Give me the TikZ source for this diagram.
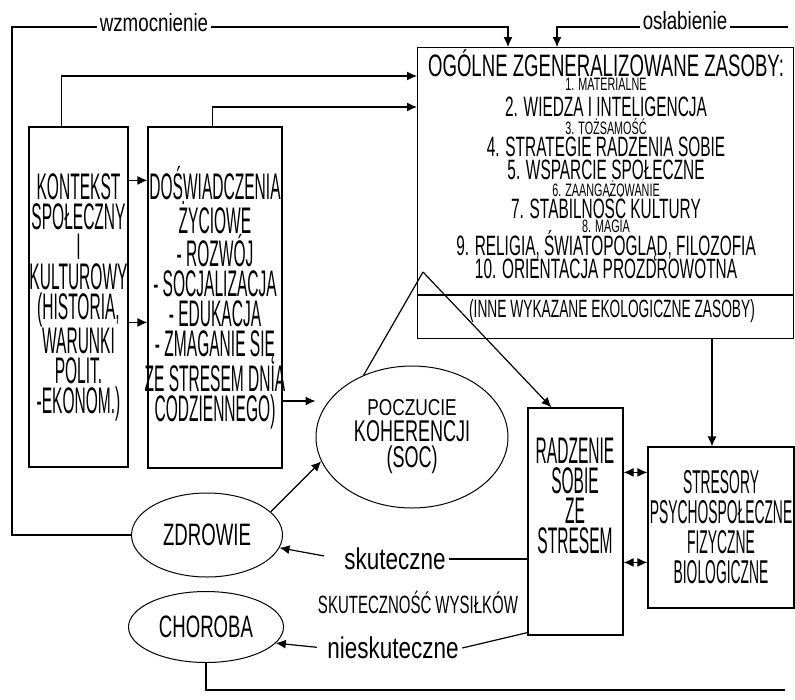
\documentclass[tikz,border=0pt]{standalone}
\usepackage{fontspec}
\setmainfont{Liberation Sans}
\newfontfamily\capsfont[FakeStretch=0.42]{Liberation Sans}
\newfontfamily\midfont[FakeStretch=0.55]{Liberation Sans}
\newfontfamily\headfont[FakeStretch=0.6]{Liberation Sans}
\newfontfamily\lowfont[FakeStretch=0.75]{Liberation Sans}
\usetikzlibrary{arrows.meta,shapes.geometric}

\begin{document}
\begin{tikzpicture}[x=1pt, y=-1pt, line width=1.2pt, >={Latex[length=10pt,width=9pt]},
    box/.style={draw, align=center, inner sep=0pt, font=\capsfont\fontsize{37}{30}\selectfont},
    oval/.style={draw, ellipse, inner sep=0pt, line width=1pt, align=center},
    item/.style={inner sep=1pt, font=\midfont\fontsize{28}{28}\selectfont},
    smallitem/.style={inner sep=1pt, font=\headfont\fontsize{18}{18}\selectfont},
    lbl/.style={font=\lowfont\fontsize{25}{25}\selectfont, fill=white, inner sep=3pt}]

    \useasboundingbox (0,0) rectangle (795,699);

    % left column
    \node[box, minimum width=99pt, minimum height=340pt] (ctx) at (78.5,297) {KONTEKST\\SPOŁECZNY\\I\\KULTUROWY\\(HISTORIA,\\WARUNKI\\POLIT.\\-EKONOM.)};
    \node[box, minimum width=134pt, minimum height=341pt] (exp) at (215,297.5) {DOŚWIADCZENIA\\ŻYCIOWE\\- ROZWÓJ\\- SOCJALIZACJA\\- EDUKACJA\\- ZMAGANIE SIĘ\\\makebox[130pt]{ZE STRESEM DNIA}\\CODZIENNEGO)};

    % resources
    \node[draw, minimum width=376pt, minimum height=291pt, anchor=north west, inner sep=0pt] (grr) at (417,47) {};
    \node[font=\headfont\fontsize{31}{31}\selectfont, inner sep=1pt] (grrhead) at (606,63) {OGÓLNE ZGENERALIZOWANE ZASOBY:};
    \foreach \n/\yy/\txt in {2/107/WIEDZA I INTELIGENCJA, 4/147/STRATEGIE RADZENIA SOBIE, 5/170/WSPARCIE SPOŁECZNE,
        7/206/STABILNOŚĆ KULTURY, 9/246/{RELIGIA, ŚWIATOPOGLĄD, FILOZOFIA}, 10/269/ORIENTACJA PROZDROWOTNA}
      \node[item] (res\n) at (606,\yy) {\n. \txt};
    \foreach \n/\yy/\txt in {1/84/MATERIALNE, 3/127/TOŻSAMOŚĆ, 6/189/ZAANGAŻOWANIE, 8/226/MAGIA}
      \node[smallitem] (res\n) at (606,\yy) {\n. \txt};
    \coordinate (div) at (0,295);
    \draw (grr.west |- div) -- (grr.east |- div);
    \node[font=\midfont\fontsize{25}{25}\selectfont] (grrlow) at (612,311) {(INNE WYKAZANE EKOLOGICZNE ZASOBY)};

    % middle and right
    \node[oval, minimum width=192pt, minimum height=142pt, font=\headfont\fontsize{30}{26}\selectfont] (soc) at (412,437) {{\lowfont\fontsize{23}{26}\selectfont POCZUCIE}\\KOHERENCJI\\(SOC)};
    \node[draw, minimum width=95pt, minimum height=227pt] (cop) at (575.5,521.5) {};
    \node[box, draw=none] (coptxt) at (575,496) {RADZENIE\\SOBIE\\ZE\\STRESEM};
    \node[box, minimum width=146pt, minimum height=161pt, font=\capsfont\fontsize{33}{30}\selectfont] (str) at (721,527.5) {STRESORY\\PSYCHOSPOŁECZNE\\FIZYCZNE\\BIOLOGICZNE};

    % outcomes
    \node[oval, minimum width=151pt, minimum height=84pt, font=\headfont\fontsize{31}{31}\selectfont] (hlth) at (207,535) {ZDROWIE};
    \node[oval, minimum width=155pt, minimum height=71pt, font=\headfont\fontsize{31}{31}\selectfont] (ill) at (206,627) {CHOROBA};
    \node[lbl, font=\lowfont\fontsize{30}{30}\selectfont] (sk) at (395,559) {skuteczne};
    \node[lbl, font=\lowfont\fontsize{30}{30}\selectfont] (nsk) at (393,648) {nieskuteczne};
    \node[font=\headfont\fontsize{25}{25}\selectfont] (eff) at (418,602) {SKUTECZNOŚĆ WYSIŁKÓW};

    % feedback loops
    \coordinate (wzturn) at (12,27);
    \draw[->] (hlth.west) -| (wzturn) -| ([xshift=91pt]grr.north west);
    \coordinate (chend) at (785,690);
    \coordinate (osend) at (788,27);
    \draw (ill.south) |- (chend);
    \draw[->] (osend) -| ([xshift=140pt]grr.north west);
    \node[lbl] (wzm) at (154,23) {wzmocnienie};
    \node[lbl] (osl) at (685,21) {osłabienie};

    \draw[->] ([xshift=33pt]ctx.north west) |- ([yshift=-29pt]grr.north west);
    \draw[->] ([xshift=65pt]exp.north west) |- ([yshift=-60pt]grr.north west);
    \draw[->] ([yshift=-54pt]ctx.north east) -- ([yshift=-54pt]exp.north west);
    \draw[->] ([yshift=-196pt]ctx.north east) -- ([yshift=-196pt]exp.north west);

    \coordinate (socin) at ([yshift=36pt]soc.west);
    \draw[->] (exp.east |- socin) -- (socin);
    \coordinate (gv) at ([xshift=6pt,yshift=-225pt]grr.north west);
    \draw (soc.128) -- (gv);
    \draw[->] (gv) -- ([xshift=24pt]cop.north west);
    \draw[->] (hlth.20) -- (soc.195);

    \draw (cop.west |- sk) -- (sk.east);
    \draw[->, shorten <=17pt] (sk.west) -- (hlth.-10);
    \draw ([yshift=3pt]cop.south west) -- (nsk.east);
    \draw[->, shorten <=7pt] (nsk.west) -- (ill.-13);

    \coordinate (strin) at ([xshift=-9pt]str.north);
    \draw[->] (grr.south -| strin) -- (strin);
    \coordinate (cs1) at ([yshift=-65pt]cop.north east);
    \coordinate (cs2) at ([yshift=-155pt]cop.north east);
    \draw[<->] (cs1) -- (cs1 -| str.west);
    \draw[<->] (cs2) -- (cs2 -| str.west);
\end{tikzpicture}
\end{document}
